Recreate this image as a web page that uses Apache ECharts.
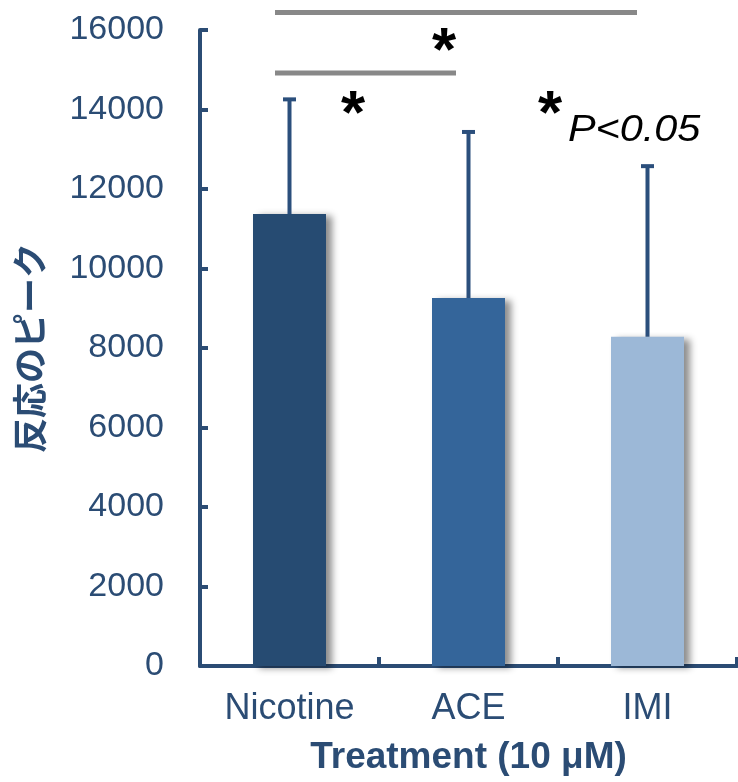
<!DOCTYPE html>
<html>
<head>
<meta charset="utf-8">
<script src="https://cdn.jsdelivr.net/npm/echarts@6/dist/echarts.min.js"></script>
<style>
html,body{margin:0;padding:0;background:#fff;}
#chart{width:738px;height:782px;}
</style>
</head>
<body>
<div id="chart"></div>
<script>
var categories = ['Nicotine', 'ACE', 'IMI'];
var meanValues = [11370, 9260, 8280];
var errorValues = [2910, 4200, 4320];
var barColors = ['#264b72', '#34659a', '#9cb8d7'];
var yTicks = [0, 2000, 4000, 6000, 8000, 10000, 12000, 14000, 16000];

var axisColor = '#2b4c74';
var chart = echarts.init(document.getElementById('chart'));

var option = {
  backgroundColor: '#ffffff',
  animation: false,
  grid: { left: 200, right: 1, top: 30, bottom: 116, containLabel: false },
  xAxis: {
    type: 'category',
    data: categories,
    name: 'Treatment (10 μM)',
    nameLocation: 'middle',
    nameGap: 73,
    nameTextStyle: { color: axisColor, fontSize: 37, fontWeight: 'bold', fontFamily: 'Liberation Sans' },
    axisLine: { lineStyle: { color: axisColor, width: 4 } },
    axisTick: { show: true, inside: true, length: 9, lineStyle: { color: axisColor, width: 4 } },
    axisLabel: { color: axisColor, fontSize: 36, fontFamily: 'Liberation Sans', margin: 25 },
    splitLine: { show: false }
  },
  yAxis: {
    type: 'value',
    min: yTicks[0],
    max: yTicks[yTicks.length - 1],
    interval: yTicks[1] - yTicks[0],
    name: '反応のピーク',
    nameLocation: 'middle',
    nameGap: 153,
    nameRotate: 90,
    nameTextStyle: { color: axisColor, fontSize: 35, fontWeight: 'bold', fontFamily: 'Noto Sans CJK JP' },
    axisLine: { show: true, lineStyle: { color: axisColor, width: 4 } },
    axisTick: { show: true, inside: true, length: 8, lineStyle: { color: axisColor, width: 4 } },
    axisLabel: { color: axisColor, fontSize: 34, fontFamily: 'Liberation Sans', margin: 36, formatter: function (v) { return String(v); } },
    splitLine: { show: false }
  },
  series: [
    {
      type: 'bar',
      barWidth: 73,
      data: meanValues.map(function (v, i) {
        return {
          value: v,
          itemStyle: {
            color: barColors[i],
            shadowColor: 'rgba(0,0,0,0.45)',
            shadowBlur: 7,
            shadowOffsetX: 6,
            shadowOffsetY: 2
          }
        };
      }),
      z: 2
    },
    {
      type: 'custom',
      z: 5,
      data: meanValues.map(function (v, i) { return [i, v, v + errorValues[i]]; }),
      renderItem: function (params, api) {
        var x = api.value(0);
        var p0 = api.coord([x, api.value(1)]);
        var p1 = api.coord([x, api.value(2)]);
        var half = 6.5;
        var st = { stroke: '#2b4f7c', lineWidth: 4 };
        return {
          type: 'group',
          children: [
            { type: 'line', shape: { x1: p0[0], y1: p0[1], x2: p1[0], y2: p1[1] }, style: st },
            { type: 'line', shape: { x1: p1[0] - half, y1: p1[1] + 1, x2: p1[0] + half, y2: p1[1] + 1 }, style: st }
          ]
        };
      }
    }
  ],
  graphic: [
    { type: 'line', shape: { x1: 275, y1: 12.5, x2: 637, y2: 12.5 }, style: { stroke: '#888888', lineWidth: 5 }, z: 10 },
    { type: 'line', shape: { x1: 275, y1: 73, x2: 456, y2: 73 }, style: { stroke: '#888888', lineWidth: 5 }, z: 10 },
    { type: 'text', x: 444, y: 53, style: { text: '*', font: 'bold 62px "Liberation Sans"', fill: '#000', textAlign: 'center', textVerticalAlign: 'middle' }, z: 10 },
    { type: 'text', x: 353, y: 116, style: { text: '*', font: 'bold 62px "Liberation Sans"', fill: '#000', textAlign: 'center', textVerticalAlign: 'middle' }, z: 10 },
    { type: 'text', x: 550, y: 116, style: { text: '*', font: 'bold 62px "Liberation Sans"', fill: '#000', textAlign: 'center', textVerticalAlign: 'middle' }, z: 10 },
    { type: 'text', x: 568, y: 131, scaleX: 1.15, style: { text: 'P<0.05', font: 'italic 36px "Liberation Sans"', fill: '#000', textAlign: 'left', textVerticalAlign: 'middle' }, z: 10 }
  ]
};
chart.setOption(option);
</script>
</body>
</html>
